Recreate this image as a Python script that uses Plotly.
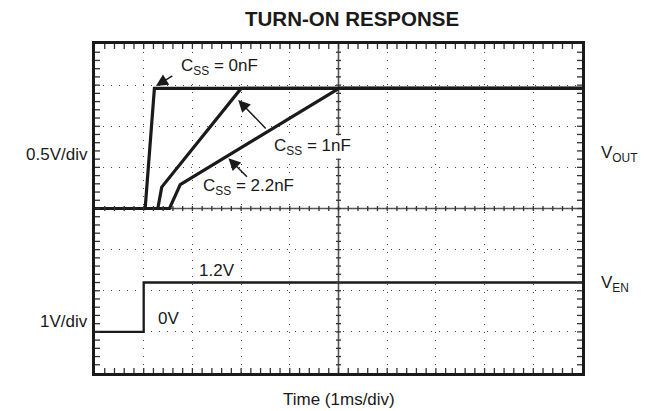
import plotly.graph_objects as go

# ---- data (time in ms, voltages in V) ----
t_0nF = [0, 1.03, 1.22, 10]
v_0nF = [0, 0, 1.46, 1.46]
t_1nF = [0, 1.29, 1.37, 3.0, 10]
v_1nF = [0, 0, 0.26, 1.46, 1.46]
t_22nF = [0, 1.53, 1.75, 5.01, 10]
v_22nF = [0, 0, 0.29, 1.46, 1.46]
t_en = [0, 1.0, 1.0, 10]
v_en = [0, 0, 1.2, 1.2]

VOUT_OFFSET_DIV = 4.0
VOUT_SCALE = 0.5   # V/div
VEN_OFFSET_DIV = 1.0
VEN_SCALE = 1.0    # V/div

def to_div(v, off, sc):
    return [off + x / sc for x in v]

FONT = "Liberation Sans, Arial, Helvetica, sans-serif"
INK = "#1a1a1a"

fig = go.Figure()
for t, v in [(t_22nF, v_22nF), (t_1nF, v_1nF), (t_0nF, v_0nF)]:
    fig.add_trace(go.Scatter(x=t, y=to_div(v, VOUT_OFFSET_DIV, VOUT_SCALE), mode="lines",
                             line=dict(color=INK, width=3.2), showlegend=False, hoverinfo="skip"))
fig.add_trace(go.Scatter(x=t_en, y=to_div(v_en, VEN_OFFSET_DIV, VEN_SCALE), mode="lines",
                         line=dict(color=INK, width=2.3, shape="linear"), showlegend=False,
                         hoverinfo="skip"))

shapes = []
# center cross lines
shapes.append(dict(type="line", xref="x", yref="y", x0=0, x1=10, y0=4, y1=4,
                   line=dict(color="#555", width=1.6), layer="below"))
shapes.append(dict(type="line", xref="x", yref="y", x0=5, x1=5, y0=0, y1=8,
                   line=dict(color="#555", width=1.6), layer="below"))
TL = 5
tc = "#333"
for i in range(1, 50):
    x = i * 0.2
    shapes.append(dict(type="line", xref="x", yref="paper", ysizemode="pixel", yanchor=0,
                       x0=x, x1=x, y0=0, y1=TL, line=dict(color=tc, width=1.3)))
    shapes.append(dict(type="line", xref="x", yref="paper", ysizemode="pixel", yanchor=1,
                       x0=x, x1=x, y0=0, y1=-TL, line=dict(color=tc, width=1.3)))
    shapes.append(dict(type="line", xref="x", yref="y", ysizemode="pixel", yanchor=4,
                       x0=x, x1=x, y0=-2.5, y1=2.5, line=dict(color=tc, width=1.3)))
for j in range(1, 40):
    y = j * 0.2
    shapes.append(dict(type="line", yref="y", xref="paper", xsizemode="pixel", xanchor=0,
                       y0=y, y1=y, x0=0, x1=TL, line=dict(color=tc, width=1.3)))
    shapes.append(dict(type="line", yref="y", xref="paper", xsizemode="pixel", xanchor=1,
                       y0=y, y1=y, x0=0, x1=-TL, line=dict(color=tc, width=1.3)))
    shapes.append(dict(type="line", yref="y", xref="x", xsizemode="pixel", xanchor=5,
                       y0=y, y1=y, x0=-2.5, x1=2.5, line=dict(color=tc, width=1.3)))

ann = []
def txt(x, y, s, size=17, xref="x", yref="y", xanchor="center", bg=None):
    d = dict(x=x, y=y, xref=xref, yref=yref, text=s, showarrow=False,
             xanchor=xanchor, yanchor="middle",
             font=dict(family=FONT, size=size, color=INK))
    if bg:
        d.update(bgcolor=bg, borderpad=0)
    ann.append(d)

def arrow(x, y, ax, ay):
    ann.append(dict(x=x, y=y, xref="x", yref="y", ax=ax, ay=ay, text="", showarrow=True,
                    arrowhead=2, arrowsize=1.6, arrowwidth=1.5, arrowcolor=INK))

txt(2.55, 7.45, "C<sub>SS</sub> = 0nF", bg="white")
txt(4.46, 5.50, "C<sub>SS</sub> = 1nF", bg="white")
txt(3.16, 4.53, "C<sub>SS</sub> = 2.2nF", bg="white")
arrow(1.25, 6.98, 18, -11)
arrow(2.94, 6.64, 29, 30)
arrow(2.74, 5.22, 20, 20)
txt(2.5, 2.5, "1.2V", bg="white")
txt(1.5, 1.33, "0V", bg="white")

txt(-0.0103, 0.665, "0.5V/div", xref="paper", yref="paper", xanchor="right")
txt(-0.0103, 0.158, "1V/div", xref="paper", yref="paper", xanchor="right")
txt(1.035, 0.665, "V<sub>OUT</sub>", xref="paper", yref="paper", xanchor="left")
txt(1.035, 0.27, "V<sub>EN</sub>", xref="paper", yref="paper", xanchor="left")
txt(0.5, -0.082, "Time (1ms/div)", xref="paper", yref="paper")
ann.append(dict(x=(352 - 95) / 487, y=(373 - 19) / 329, xref="paper", yref="paper",
                text="<b>TURN-ON RESPONSE</b>", showarrow=False, xanchor="center",
                yanchor="middle", font=dict(family=FONT, size=20.5, color=INK)))

axis_common = dict(showticklabels=False, ticks="", showgrid=True, gridcolor="#444",
                   gridwidth=1.2, griddash="1px,7px", zeroline=False, showline=True,
                   mirror=True, linecolor=INK, linewidth=2.5, dtick=1, tick0=0,
                   fixedrange=True)
fig.update_layout(
    width=651, height=411,
    margin=dict(l=95, r=69, t=44, b=38),
    paper_bgcolor="white", plot_bgcolor="white",
    xaxis=dict(range=[0, 10], **axis_common),
    yaxis=dict(range=[0, 8], **axis_common),
    shapes=shapes, annotations=ann,
    font=dict(family=FONT, color=INK),
)
fig.write_html("out.html", config={"displayModeBar": False},
               post_script="document.body.style.margin='0px';document.body.style.overflow='hidden';")
